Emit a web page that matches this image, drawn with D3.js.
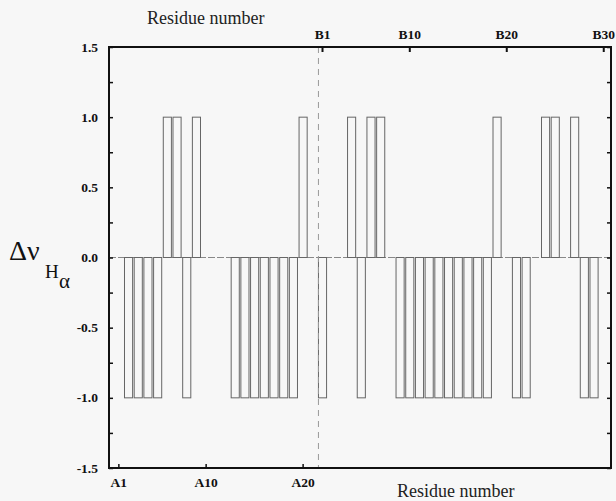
<!DOCTYPE html>
<html>
<head>
<meta charset="utf-8">
<script src="https://cdn.jsdelivr.net/npm/d3@7"></script>
<style>
  body { margin: 0; background: #f7f7f7; }
  svg { display: block; }
</style>
</head>
<body>
<svg id="chart"></svg>
<script>
const width = 616;
const height = 501;

// residues: A1..A21 then B1..B30
const chainA = d3.range(1, 22).map(n => "A" + n);
const chainB = d3.range(1, 31).map(n => "B" + n);
const residues = chainA.concat(chainB);

// chemical shift change sign per residue (-1, 0, +1)
const valuesA = [0, -1, -1, -1, -1, 1, 1, -1, 1, 0, 0, 0, -1, -1, -1, -1, -1, -1, -1, 1, 0];
const valuesB = [-1, 0, 0, 1, -1, 1, 1, 0, -1, -1, -1, -1, -1, -1, -1, -1, -1, -1, 1, 0,
                 -1, -1, 0, 1, 1, 0, 1, -1, -1, 0];
const values = valuesA.concat(valuesB);

const bottomTicks = ["A1", "A10", "A20"];
const topTicks = ["B1", "B10", "B20", "B30"];
const yMajor = [1.5, 1.0, 0.5, 0.0, -0.5, -1.0, -1.5];
const yMinor = [1.25, 0.75, 0.25, -0.25, -0.75, -1.25];

const plotLeft = 109, plotRight = 611, plotTop = 47, plotBottom = 468;

const svg = d3.select("#chart").attr("width", width).attr("height", height);

svg.append("rect").attr("width", width).attr("height", height).attr("fill", "#f7f7f7");

const x = d3.scaleBand()
    .domain(residues)
    .range([114.3, 608.3])
    .paddingInner(0.06)
    .paddingOuter(0);

const y = d3.scaleLinear()
    .domain([-1.5, 1.5])
    .range([plotBottom, plotTop]);

// zero line
svg.append("line")
    .attr("x1", plotLeft).attr("x2", plotRight)
    .attr("y1", y(0)).attr("y2", y(0))
    .attr("stroke", "#888")
    .attr("stroke-width", 1)
    .attr("stroke-dasharray", "7,2");

// bars
svg.append("g").selectAll("rect")
    .data(residues.map((r, i) => ({ r: r, v: values[i] })).filter(d => d.v != 0))
    .enter().append("rect")
    .attr("x", d => x(d.r) + 0.5)
    .attr("y", d => y(Math.max(0, d.v)))
    .attr("width", x.bandwidth() - 1)
    .attr("height", d => Math.abs(y(d.v) - y(0)))
    .attr("fill", "none")
    .attr("stroke", "#666")
    .attr("stroke-width", 1);

// chain separator
const sepX = x("B1") + 0.5;
svg.append("line")
    .attr("x1", sepX).attr("x2", sepX)
    .attr("y1", plotTop).attr("y2", plotBottom)
    .attr("stroke", "#999")
    .attr("stroke-width", 1)
    .attr("stroke-dasharray", "6,5");

// frame
svg.append("rect")
    .attr("x", plotLeft).attr("y", plotTop)
    .attr("width", plotRight - plotLeft).attr("height", plotBottom - plotTop)
    .attr("fill", "none")
    .attr("stroke", "#111")
    .attr("stroke-width", 2);

const font = "'Liberation Serif', 'Times New Roman', serif";

// y axis ticks (inward, left and right)
const gL = svg.append("g").attr("transform", "translate(" + plotLeft + ",0)")
    .call(d3.axisRight(y).tickValues(yMajor.concat(yMinor)).tickSize(4).tickFormat(""));
const gR = svg.append("g").attr("transform", "translate(" + plotRight + ",0)")
    .call(d3.axisLeft(y).tickValues(yMajor.concat(yMinor)).tickSize(4).tickFormat(""));
[gL, gR].forEach(g => {
    g.select(".domain").remove();
    g.selectAll("line").attr("stroke", "#111").attr("stroke-width", 1.5);
});

svg.append("g").selectAll("text")
    .data(yMajor)
    .enter().append("text")
    .attr("x", 98)
    .attr("y", d => y(d) + 4.5)
    .attr("text-anchor", "end")
    .attr("font-family", font)
    .attr("font-weight", "bold")
    .attr("font-size", 13.5)
    .attr("fill", "#111")
    .text(d => d.toFixed(1));

// bottom axis (A chain)
const gB = svg.append("g").attr("transform", "translate(0," + plotBottom + ")")
    .call(d3.axisTop(x).tickValues(bottomTicks).tickSize(4).tickFormat(""));
gB.select(".domain").remove();
gB.selectAll("line").attr("stroke", "#111").attr("stroke-width", 1.5);
gB.selectAll(".tick").append("text")
    .attr("y", 19)
    .attr("text-anchor", "middle")
    .attr("font-family", font)
    .attr("font-weight", "bold")
    .attr("font-size", 13.5)
    .attr("fill", "#111")
    .text(d => d);

// top axis (B chain)
const gT = svg.append("g").attr("transform", "translate(0," + plotTop + ")")
    .call(d3.axisBottom(x).tickValues(topTicks).tickSize(5).tickFormat(""));
gT.select(".domain").remove();
gT.selectAll("line").attr("stroke", "#111").attr("stroke-width", 2);
gT.selectAll(".tick").append("text")
    .attr("y", -8)
    .attr("text-anchor", "middle")
    .attr("font-family", font)
    .attr("font-weight", "bold")
    .attr("font-size", 13.5)
    .attr("fill", "#111")
    .text(d => d);

// axis titles
svg.append("text")
    .attr("x", 147).attr("y", 24)
    .attr("font-family", font)
    .attr("font-size", 18)
    .attr("fill", "#222")
    .text("Residue number");

svg.append("text")
    .attr("x", 397).attr("y", 497)
    .attr("font-family", font)
    .attr("font-size", 18)
    .attr("fill", "#222")
    .text("Residue number");

const yt = svg.append("text")
    .attr("font-family", font)
    .attr("fill", "#111");
yt.append("tspan").attr("x", 9).attr("y", 260).attr("font-size", 28).text("Δν");
yt.append("tspan").attr("x", 45).attr("y", 278).attr("font-size", 19).text("H");
yt.append("tspan").attr("x", 59).attr("y", 288).attr("font-size", 21).text("α");
</script>
</body>
</html>
